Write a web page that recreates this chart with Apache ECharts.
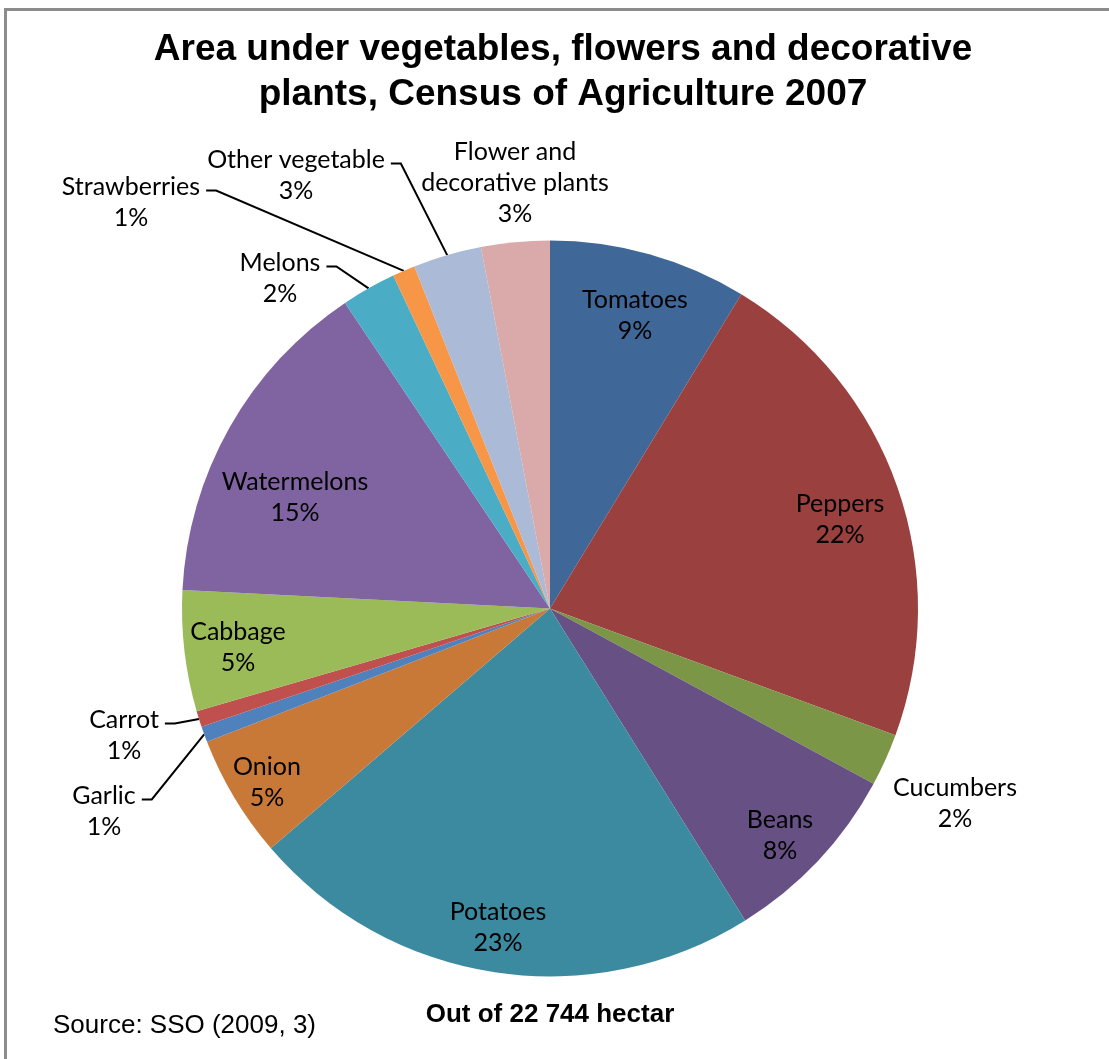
<!DOCTYPE html>
<html>
<head>
<meta charset="utf-8">
<title>Area under vegetables, flowers and decorative plants</title>
<script src="https://cdn.jsdelivr.net/npm/echarts@6/dist/echarts.min.js"></script>
<style>
  html, body { margin: 0; padding: 0; background: #ffffff; }
  #chart { width: 1109px; height: 1059px; }
</style>
</head>
<body>
<div id="chart"></div>
<script>
// Census of Agriculture 2007 - area by crop (hectares, total 22 744 ha)
const crops = [
  'Tomatoes', 'Peppers', 'Cucumbers', 'Beans', 'Potatoes', 'Onion', 'Garlic',
  'Carrot', 'Cabbage', 'Watermelons', 'Melons', 'Strawberries',
  'Other vegetable', 'Flower and decorative plants'
];
const hectares = [1979, 4981, 523, 1865, 5140, 1228, 159, 159, 1205, 3366, 546, 227, 682, 684];
const cropLabels = [
  'Tomatoes', 'Peppers', 'Cucumbers', 'Beans', 'Potatoes', 'Onion', 'Garlic',
  'Carrot', 'Cabbage', 'Watermelons', 'Melons', 'Strawberries',
  'Other vegetable', 'Flower and\ndecorative plants'
];
const titleText = 'Area under vegetables, flowers and decorative\nplants, Census of Agriculture 2007';
const totalText = 'Out of 22 744 hectar';
const sourceText = 'Source: SSO (2009, 3)';

// Slice colours (Office 2007 palette: shaded, base, tinted)
const palette = [
  '#3F6797', '#9A403E', '#7C9647', '#665084', '#3C8AA0', '#C87938',
  '#4F81BD', '#C0504D', '#9BBB59', '#8064A2', '#4BACC6', '#F79646',
  '#AABAD7', '#D9AAA9'
];

// Where each data label sits (block centre, px) and whether it gets a leader line
const labelSpots = {
  'Tomatoes': { x: 635, y: 315 },
  'Peppers': { x: 840, y: 519 },
  'Cucumbers': { x: 955, y: 803, outside: true },
  'Beans': { x: 780, y: 835 },
  'Potatoes': { x: 498, y: 927 },
  'Onion': { x: 267, y: 782 },
  'Garlic': { x: 104, y: 811, outside: true, leader: true },
  'Carrot': { x: 124, y: 735, outside: true, leader: true },
  'Cabbage': { x: 238, y: 647 },
  'Watermelons': { x: 295, y: 497 },
  'Melons': { x: 280, y: 278, outside: true, leader: true },
  'Strawberries': { x: 131, y: 202, outside: true, leader: true },
  'Other vegetable': { x: 296, y: 175, outside: true, leader: true },
  'Flower and decorative plants': { x: 515, y: 183, outside: true }
};

const LABEL_FONT = 'Lato';
const LABEL_SIZE = 25;
const LABEL_LINE_H = 31;

const pieData = crops.map(function (name, i) {
  const spot = labelSpots[name];
  return {
    name: name,
    value: hectares[i],
    itemStyle: { color: palette[i] },
    label: { position: spot.outside ? 'outside' : 'inside' },
    labelLine: { show: !!spot.leader }
  };
});

const chart = echarts.init(document.getElementById('chart'), null, { renderer: 'canvas' });

chart.setOption({
  backgroundColor: '#ffffff',
  animation: false,
  graphic: [
    {
      type: 'rect',
      z: -10,
      shape: { x: 5.5, y: 9.5, width: 1300, height: 1300 },
      style: { fill: '#ffffff', stroke: '#8c8c8c', lineWidth: 3 },
      silent: true
    },
    {
      type: 'text',
      x: 563,
      y: 72,
      style: {
        text: titleText,
        fontFamily: '"Liberation Sans", Arial, sans-serif',
        fontWeight: 'bold',
        fontSize: 37,
        lineHeight: 45,
        fill: '#000000',
        align: 'center',
        verticalAlign: 'middle'
      }
    },
    {
      type: 'text',
      x: 550,
      y: 1015,
      style: {
        text: totalText,
        fontFamily: '"Liberation Sans", Arial, sans-serif',
        fontWeight: 'bold',
        fontSize: 26,
        fill: '#000000',
        align: 'center',
        verticalAlign: 'middle'
      }
    },
    {
      type: 'text',
      x: 53,
      y: 1026,
      style: {
        text: sourceText,
        fontFamily: '"Liberation Sans", Arial, sans-serif',
        fontSize: 26,
        fill: '#000000',
        align: 'left',
        verticalAlign: 'middle'
      }
    }
  ],
  series: [
    {
      type: 'pie',
      center: [550, 608.5],
      radius: 368,
      startAngle: 90,
      clockwise: true,
      avoidLabelOverlap: false,
      silent: true,
      itemStyle: { borderWidth: 0 },
      data: pieData,
      label: {
        show: true,
        color: '#000000',
        fontFamily: LABEL_FONT,
        fontSize: LABEL_SIZE,
        lineHeight: LABEL_LINE_H,
        align: 'center',
        formatter: function (p) {
          return cropLabels[p.dataIndex] + '\n' + Math.round(p.percent) + '%';
        }
      },
      labelLine: {
        show: true,
        length: 20,
        length2: 10,
        lineStyle: { color: '#000000', width: 2 }
      },
      labelLayout: function (p) {
        const spot = labelSpots[crops[p.dataIndex]];
        const out = { x: spot.x, y: spot.y, align: 'center', verticalAlign: 'middle' };
        if (spot.leader && p.labelLinePoints && p.labelLinePoints.length) {
          const w = p.labelRect.width;
          const h = p.labelRect.height;
          // leader leaves from the right end of the first text line
          const sx = spot.x + w / 2 + 6;
          const sy = spot.y - h / 4 + 4;
          out.labelLinePoints = [p.labelLinePoints[0], [sx + 10, sy], [sx, sy]];
        }
        return out;
      }
    }
  ]
});
</script>
</body>
</html>
